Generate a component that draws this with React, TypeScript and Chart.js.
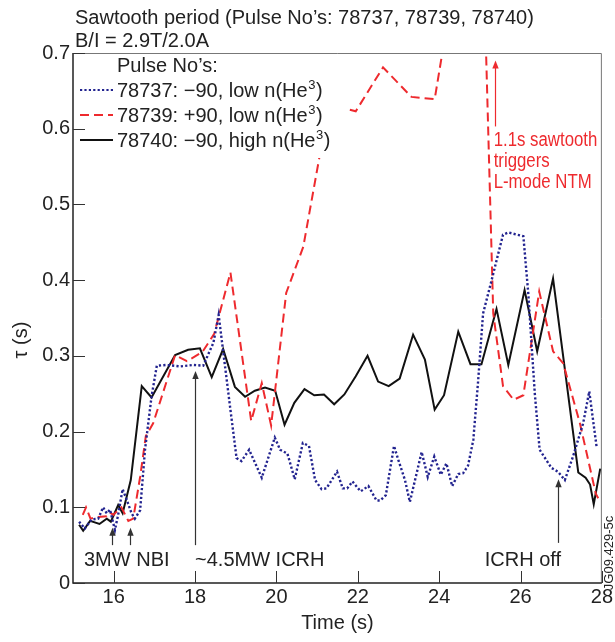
import React, { useEffect, useRef } from "react";
import { Chart, registerables } from "chart.js";

Chart.register(...registerables);

const FONT = '"Liberation Sans", Arial, Helvetica, sans-serif';

const xTickValues = [16, 18, 20, 22, 24, 26, 28];
const yTickValues = [0, 0.1, 0.2, 0.3, 0.4, 0.5, 0.6, 0.7];

// 78737: -90, low n(He3)  (blue dotted)
const t78737 = [
  15.15, 15.29, 15.46, 15.62, 15.74, 15.83, 15.91, 16.03, 16.11, 16.22, 16.32, 16.44, 16.52, 16.65,
  16.77, 16.93, 17.06, 17.3, 17.63, 17.96, 18.2, 18.45, 18.58, 18.86, 19.02, 19.14, 19.33, 19.64,
  19.96, 20.09, 20.27, 20.45, 20.65, 20.8, 20.95, 21.11, 21.23, 21.49, 21.63, 21.74, 21.87, 22.07,
  22.26, 22.46, 22.55, 22.69, 22.89, 23.0, 23.16, 23.28, 23.57, 23.72, 23.88, 24.04, 24.18, 24.32,
  24.47, 24.59, 24.71, 24.84, 24.96, 25.08, 25.29, 25.57, 25.7, 26.07, 26.19, 26.35, 26.47, 26.76,
  26.92, 27.09, 27.29, 27.54, 27.69, 27.87,
];
const tau78737 = [
  0.081, 0.072, 0.084, 0.085, 0.1, 0.092, 0.097, 0.07, 0.09, 0.124, 0.11, 0.092, 0.085, 0.096,
  0.176, 0.246, 0.287, 0.288, 0.286, 0.288, 0.287, 0.317, 0.354, 0.233, 0.165, 0.161, 0.176, 0.139,
  0.192, 0.176, 0.171, 0.137, 0.185, 0.181, 0.136, 0.124, 0.125, 0.147, 0.125, 0.125, 0.134, 0.121,
  0.128, 0.109, 0.109, 0.116, 0.181, 0.162, 0.136, 0.107, 0.173, 0.14, 0.167, 0.143, 0.158, 0.128,
  0.144, 0.145, 0.155, 0.189, 0.268, 0.356, 0.4, 0.46, 0.463, 0.458, 0.383, 0.251, 0.176, 0.152,
  0.147, 0.136, 0.167, 0.211, 0.253, 0.18,
];

// 78739: +90, low n(He3)  (red dashed)
const t78739 = [
  15.24, 15.32, 15.43, 15.58, 15.83, 15.91, 15.99, 16.19, 16.36, 16.48, 16.65, 16.79, 16.97, 17.51,
  17.8, 18.18, 18.47, 18.87, 19.38, 19.64, 19.87, 20.24, 20.66, 21.25, 21.68, 21.95, 22.62, 23.32,
  23.89, 25.0, 25.33, 25.57, 25.83, 26.07, 26.46, 26.8, 27.05, 27.46, 27.85, 27.91,
];
const tau78739 = [
  0.09, 0.1, 0.085, 0.087, 0.088, 0.093, 0.09, 0.1, 0.082, 0.085, 0.14, 0.194, 0.211, 0.301,
  0.293, 0.305, 0.329, 0.41, 0.214, 0.264, 0.208, 0.383, 0.444, 0.62, 0.627, 0.623, 0.681, 0.642,
  0.639, 1.0, 0.356, 0.26, 0.242, 0.248, 0.385, 0.306, 0.29, 0.211, 0.118, 0.112,
];

// 78740: -90, high n(He3)  (black solid)
const t78740 = [
  15.15, 15.25, 15.42, 15.65, 15.83, 15.93, 16.11, 16.22, 16.42, 16.69, 16.93, 17.51, 17.83, 18.12,
  18.41, 18.69, 18.98, 19.23, 19.47, 19.72, 19.97, 20.2, 20.44, 20.69, 20.93, 21.17, 21.42, 21.67,
  21.95, 22.24, 22.5, 22.76, 23.03, 23.36, 23.65, 23.89, 24.12, 24.47, 24.77, 25.04, 25.41, 25.7,
  26.1, 26.41, 26.8, 27.42, 27.6, 27.71, 27.8, 27.96,
];
const tau78740 = [
  0.077, 0.069, 0.082, 0.078, 0.085, 0.081, 0.103, 0.092, 0.136, 0.26, 0.245, 0.301, 0.308, 0.31,
  0.272, 0.309, 0.259, 0.246, 0.254, 0.258, 0.254, 0.209, 0.238, 0.256, 0.248, 0.249, 0.236, 0.249,
  0.273, 0.3, 0.266, 0.26, 0.27, 0.328, 0.295, 0.229, 0.248, 0.332, 0.289, 0.289, 0.362, 0.288,
  0.387, 0.306, 0.402, 0.146, 0.139, 0.13, 0.104, 0.151,
];

const seriesLabels = ["78737: \u221290, low n(He", "78739: +90, low n(He", "78740: \u221290, high n(He"];
const seriesColors = ["#22238f", "#ee2a2e", "#111111"];
const legendTitle = "Pulse No\u2019s:";

const titleLines = ["Sawtooth period (Pulse No\u2019s: 78737, 78739, 78740)", "B/I = 2.9T/2.0A"];
const xTitle = "Time (s)";
const yTitle = "\u03c4 (s)";
const stamp = "JG09.429-5c";

// annotations in data coordinates
const blackArrows = [
  { t: 15.97, from: 0.05, to: 0.073 },
  { t: 16.4, from: 0.05, to: 0.073 },
  { t: 18.0, from: 0.05, to: 0.28 },
  { t: 26.93, from: 0.053, to: 0.137 },
];
const redArrow = { t: 25.37, from: 0.603, to: 0.69 };
const blackNotes = [
  { text: "3MW NBI", t: 15.27, v: 0.022 },
  { text: "~4.5MW ICRH", t: 18.0, v: 0.022 },
  { text: "ICRH off", t: 25.12, v: 0.022 },
];
const redNotes = [
  { text: "1.1s sawtooth", t: 25.34, v: 0.5766 },
  { text: "triggers", t: 25.34, v: 0.5489 },
  { text: "L-mode NTM", t: 25.34, v: 0.5211 },
];

function toPoints(ts: number[], vs: number[]) {
  return ts.map((x, i) => ({ x, y: vs[i] }));
}

function drawArrow(ctx: CanvasRenderingContext2D, x: number, y0: number, y1: number, color: string) {
  ctx.strokeStyle = color;
  ctx.fillStyle = color;
  ctx.lineWidth = 1.2;
  ctx.beginPath();
  ctx.moveTo(x, y0);
  ctx.lineTo(x, y1 + 6);
  ctx.stroke();
  ctx.beginPath();
  ctx.moveTo(x, y1);
  ctx.lineTo(x - 3.2, y1 + 8);
  ctx.lineTo(x + 3.2, y1 + 8);
  ctx.closePath();
  ctx.fill();
}

const overlayPlugin = {
  id: "overlay",
  afterDatasetsDraw(chart: any) {
    const ctx: CanvasRenderingContext2D = chart.ctx;
    const { left, right, top, bottom } = chart.chartArea;
    const xs = chart.scales.x;
    const ys = chart.scales.y;
    ctx.save();

    // legend box (opaque)
    ctx.fillStyle = "#ffffff";
    ctx.fillRect(left + 1, top + 1, 273, 104);
    const rowBase = [top + 44, top + 69, top + 94];
    ctx.font = `20px ${FONT}`;
    ctx.fillStyle = "#222";
    ctx.textAlign = "left";
    ctx.textBaseline = "alphabetic";
    ctx.fillText(legendTitle, left + 44, top + 19);
    const dashes = [[2.2, 2.2], [9, 5], []];
    const widths = [2.2, 2, 2];
    seriesLabels.forEach((lab, i) => {
      const yb = rowBase[i];
      const ym = yb - 7;
      ctx.save();
      ctx.strokeStyle = seriesColors[i];
      ctx.lineWidth = widths[i];
      ctx.setLineDash(dashes[i]);
      ctx.beginPath();
      ctx.moveTo(left + 7, ym);
      ctx.lineTo(left + 40, ym);
      ctx.stroke();
      ctx.restore();
      ctx.fillStyle = "#222";
      ctx.font = `20px ${FONT}`;
      let x = left + 44;
      ctx.fillText(lab, x, yb);
      x += ctx.measureText(lab).width;
      ctx.font = `13px ${FONT}`;
      ctx.fillText("3", x + 0.5, yb - 8);
      x += ctx.measureText("3").width + 1;
      ctx.font = `20px ${FONT}`;
      ctx.fillText(")", x, yb);
    });

    // frame
    ctx.setLineDash([]);
    ctx.strokeStyle = "#777";
    ctx.lineWidth = 1;
    ctx.beginPath();
    ctx.moveTo(left, top + 0.5);
    ctx.lineTo(right - 0.5, top + 0.5);
    ctx.lineTo(right - 0.5, bottom);
    ctx.stroke();
    ctx.strokeStyle = "#222";
    ctx.lineWidth = 1.5;
    ctx.beginPath();
    ctx.moveTo(left, top);
    ctx.lineTo(left, bottom);
    ctx.lineTo(right, bottom);
    ctx.stroke();

    // inward ticks
    ctx.strokeStyle = "#333";
    ctx.lineWidth = 1;
    xTickValues.forEach((v) => {
      const px = Math.round(xs.getPixelForValue(v)) + 0.5;
      ctx.beginPath();
      ctx.moveTo(px, bottom);
      ctx.lineTo(px, bottom - 12);
      ctx.stroke();
    });
    yTickValues.forEach((v) => {
      const py = Math.round(ys.getPixelForValue(v)) + 0.5;
      ctx.beginPath();
      ctx.moveTo(left, py);
      ctx.lineTo(left + 12, py);
      ctx.stroke();
    });

    // arrows
    blackArrows.forEach((a) => {
      drawArrow(ctx, Math.round(xs.getPixelForValue(a.t)) + 0.5, ys.getPixelForValue(a.from), ys.getPixelForValue(a.to), "#333");
    });
    drawArrow(ctx, Math.round(xs.getPixelForValue(redArrow.t)) + 0.5, ys.getPixelForValue(redArrow.from), ys.getPixelForValue(redArrow.to), "#ee2a2e");

    // notes
    ctx.font = `20px ${FONT}`;
    ctx.fillStyle = "#222";
    ctx.textAlign = "left";
    blackNotes.forEach((n) => {
      ctx.fillText(n.text, xs.getPixelForValue(n.t), ys.getPixelForValue(n.v));
    });
    ctx.fillStyle = "#ee2a2e";
    redNotes.forEach((n) => {
      ctx.save();
      ctx.translate(xs.getPixelForValue(n.t), ys.getPixelForValue(n.v));
      ctx.scale(0.84, 1);
      ctx.fillText(n.text, 0, 0);
      ctx.restore();
    });

    // titles
    ctx.fillStyle = "#222";
    ctx.font = `20px ${FONT}`;
    ctx.fillText(titleLines[0], left + 2, 24);
    ctx.fillText(titleLines[1], left + 2, 47);
    ctx.textAlign = "center";
    ctx.fillText(xTitle, (left + right) / 2, 629);
    ctx.save();
    ctx.translate(27, 340);
    ctx.rotate(-Math.PI / 2);
    ctx.fillText(yTitle, 0, 0);
    ctx.restore();
    ctx.save();
    ctx.font = `13px ${FONT}`;
    ctx.translate(613, 553);
    ctx.rotate(-Math.PI / 2);
    ctx.fillText(stamp, 0, 0);
    ctx.restore();

    ctx.restore();
  },
};

export default function App() {
  const canvasRef = useRef<HTMLCanvasElement | null>(null);

  useEffect(() => {
    const canvas = canvasRef.current;
    if (!canvas) return;
    const chart = new Chart(canvas, {
      type: "scatter",
      data: {
        datasets: [
          {
            label: "78737",
            data: toPoints(t78737, tau78737),
            showLine: true,
            borderColor: seriesColors[0],
            borderWidth: 2.4,
            borderDash: [2.2, 2.2],
            pointRadius: 0,
            tension: 0,
          },
          {
            label: "78739",
            data: toPoints(t78739, tau78739),
            showLine: true,
            borderColor: seriesColors[1],
            borderWidth: 2,
            borderDash: [9, 5],
            pointRadius: 0,
            tension: 0,
          },
          {
            label: "78740",
            data: toPoints(t78740, tau78740),
            showLine: true,
            borderColor: seriesColors[2],
            borderWidth: 2,
            pointRadius: 0,
            tension: 0,
          },
        ],
      },
      options: {
        responsive: false,
        animation: false,
        devicePixelRatio: 1,
        layout: { padding: { top: 53, right: 13, left: 0, bottom: 0 } },
        plugins: {
          legend: { display: false },
          title: { display: false },
          tooltip: { enabled: false },
        },
        scales: {
          x: {
            type: "linear",
            min: 15,
            max: 28,
            grid: { display: false, drawTicks: false },
            border: { display: false },
            afterBuildTicks: (s: any) => {
              s.ticks = xTickValues.map((value) => ({ value }));
            },
            afterFit: (s: any) => {
              s.height = 59;
            },
            ticks: {
              font: { family: FONT, size: 20 },
              color: "#222",
              padding: 2,
              maxRotation: 0,
              autoSkip: false,
              callback: (v: any) => String(v),
            },
          },
          y: {
            type: "linear",
            min: 0,
            max: 0.7,
            grid: { display: false, drawTicks: false },
            border: { display: false },
            afterBuildTicks: (s: any) => {
              s.ticks = yTickValues.map((value) => ({ value }));
            },
            afterFit: (s: any) => {
              s.width = 73;
            },
            ticks: {
              font: { family: FONT, size: 20 },
              color: "#222",
              padding: 3,
              autoSkip: false,
              callback: (v: any) => (Number(v) === 0 ? "0" : Number(v).toFixed(1)),
            },
          },
        },
      },
      plugins: [overlayPlugin],
    } as any);
    return () => chart.destroy();
  }, []);

  return (
    <div style={{ position: "absolute", left: 0, top: 0, width: 615, height: 642, background: "#fff" }}>
      <canvas ref={canvasRef} width={615} height={642} style={{ display: "block" }} />
    </div>
  );
}
